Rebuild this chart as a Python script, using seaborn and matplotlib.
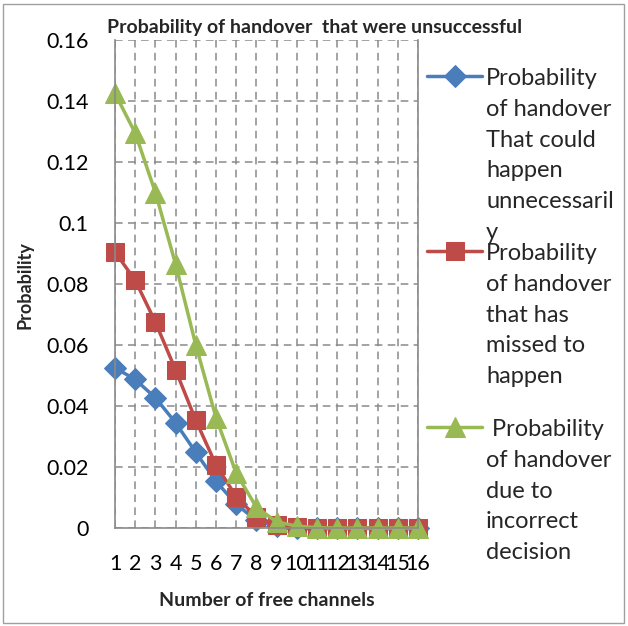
import numpy as np
import pandas as pd
import matplotlib
matplotlib.use("Agg")
import matplotlib.pyplot as plt
import seaborn as sns
from matplotlib.lines import Line2D
from matplotlib.legend_handler import HandlerLine2D
from matplotlib.patches import Rectangle

# ---- data ----
channels = list(range(1, 17))
p_unnecessary = [0.0525, 0.0487, 0.0427, 0.0345, 0.0248, 0.0153, 0.0078, 0.0025,
                 0.0006, 0.0001, 0.0, 0.0, 0.0, 0.0, 0.0, 0.0]
p_missed = [0.0905, 0.0812, 0.0675, 0.0518, 0.0353, 0.0207, 0.0103, 0.0035,
            0.0010, 0.0003, 0.0001, 0.0, 0.0, 0.0, 0.0, 0.0]
p_incorrect = [0.1425, 0.1295, 0.1100, 0.0865, 0.0600, 0.0362, 0.0180, 0.0068,
               0.0020, 0.0006, 0.0001, 0.0, 0.0, 0.0, 0.0, 0.0]
labels = ["Probability\nof handover\nThat could\nhappen\nunnecessaril\ny",
          "Probability\nof handover\nthat has\nmissed to\nhappen",
          " Probability\nof handover\ndue to\nincorrect\ndecision"]
y_ticks = [0, 0.02, 0.04, 0.06, 0.08, 0.1, 0.12, 0.14, 0.16]
y_ticklabels = ["0", "0.02", "0.04", "0.06", "0.08", "0.1", "0.12", "0.14", "0.16"]

colors = ["#4A7EBB", "#BE4B48", "#98B954"]
markers = ["D", "s", "^"]
msizes = [11, 13, 14]

sns.set_style("white")
plt.rcParams['font.family'] = ['Lato', 'DejaVu Sans']

fig = plt.figure(figsize=(6.28, 6.26), dpi=100)
ax = fig.add_axes([115/628, 1-528/626, (418-115)/628, (528-40)/626])

series = [p_unnecessary, p_missed, p_incorrect]
for vals, lab, c, m, ms in zip(series, labels, colors, markers, msizes):
    df = pd.DataFrame({"x": channels, "y": vals})
    sns.lineplot(data=df, x="x", y="y", ax=ax, color=c, marker=m, markersize=ms,
                 markeredgecolor=c, linewidth=2.5, label=lab, legend=False,
                 clip_on=False)

ax.set_xlim(1, 16)
ax.set_ylim(0, 0.16)
ax.set_xticks(channels)
ax.set_xticklabels([str(c) for c in channels])
ax.set_yticks(y_ticks)
ax.set_yticklabels(y_ticklabels)
ax.grid(True, color="#8a8a8a", linestyle=(0, (5, 3.5)), linewidth=1.1)
ax.set_axisbelow(True)
for s in ["left", "bottom", "right"]:
    ax.spines[s].set_color("#8a8a8a")
    ax.spines[s].set_linewidth(1.2)
ax.spines["top"].set_visible(False)
ax.tick_params(axis="both", which="major", direction="out", length=7, width=1.2,
               color="#8a8a8a", labelsize=15.5, labelcolor="black")
ax.tick_params(axis="y", pad=12)
ax.tick_params(axis="x", pad=12)
ax.tick_params(axis="y", right=False)
ax.set_xlabel("Number of free channels", fontsize=14, fontweight="bold", labelpad=13)
ax.set_ylabel("")
fig.text(25/628, 1-285/626, "Probability", rotation=90, fontsize=13,
         fontweight="bold", ha="center", va="center")
fig.text(315/628, 1-27/626, "Probability of handover  that were unsuccessful",
         fontsize=14, fontweight="bold", ha="center", va="center")

# legends
leg_fs = 17
pitch_pt = 30.9 * 0.72


class TopHandler(HandlerLine2D):
    def __init__(self, nlines, **kw):
        super().__init__(**kw)
        self.nlines = nlines

    def create_artists(self, legend, orig_handle, xdescent, ydescent, width,
                       height, fontsize, trans):
        arts = super().create_artists(legend, orig_handle, xdescent, ydescent,
                                      width, height, fontsize, trans)
        shift = (self.nlines - 1) / 2 * pitch_pt + 1.5
        for a in arts:
            if isinstance(a, Line2D):
                a.set_ydata(np.asarray(a.get_ydata()) + shift)
        return arts


handles, labs = ax.get_legend_handles_labels()
tops = [68, 243, 419]
for h, lab, top in zip(handles, labs, tops):
    n = lab.count("\n") + 1
    leg = fig.legend([h], [lab], loc="upper left",
                     bbox_to_anchor=(427/628, 1 - top/626),
                     frameon=False, fontsize=leg_fs, borderpad=0, borderaxespad=0,
                     handlelength=2.33, handletextpad=0.17,
                     handler_map={h: TopHandler(n, numpoints=1)})
    for t in leg.get_texts():
        t.set_linespacing(1.575)

fig.patches.append(Rectangle((3/628, 3/626), 621/628, 619/626, transform=fig.transFigure,
                             fill=False, edgecolor="#a0a0a0", linewidth=1.0))

fig.savefig("out.png", dpi=100)
